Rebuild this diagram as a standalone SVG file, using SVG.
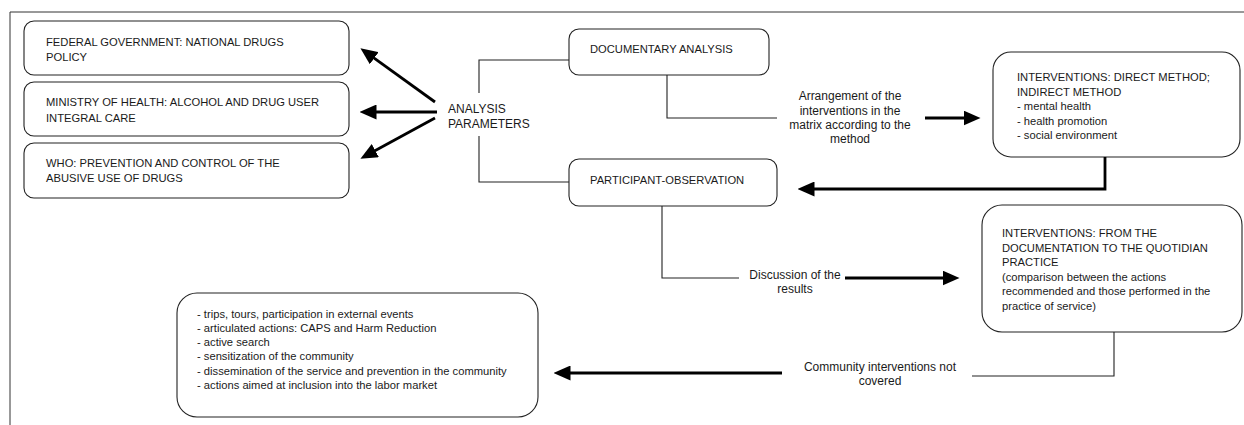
<svg xmlns="http://www.w3.org/2000/svg" width="1244" height="425" viewBox="0 0 1244 425">
<style>
  .frame{fill:none;stroke:#333;stroke-width:1}
  .box{fill:#fff;stroke:#222;stroke-width:1.1}
  .t{font-family:"Liberation Sans",Arial,sans-serif;font-size:11.2px;fill:#1a1a1a}
  .lbl{font-family:"Liberation Sans",Arial,sans-serif;font-size:12px;fill:#1a1a1a;text-anchor:middle}
  .thin{fill:none;stroke:#222;stroke-width:1.1}
  .thick{fill:none;stroke:#000;stroke-width:2.8;marker-end:url(#ah)}
</style>
<defs>
  <marker id="ah" markerUnits="userSpaceOnUse" viewBox="0 0 17 15" markerWidth="17" markerHeight="15" refX="0.5" refY="7.5" orient="auto">
    <path d="M0,0 L17,7.5 L0,15 z" fill="#000"/>
  </marker>
</defs>
<rect width="1244" height="425" fill="#fff"/>
<path class="frame" d="M10,425 V12 H1244"/>

<g id="federal">
  <rect class="box" x="24" y="21" width="325" height="54" rx="10"/>
  <text class="t" x="46" y="46">FEDERAL GOVERNMENT: NATIONAL DRUGS</text>
  <text class="t" x="46" y="61">POLICY</text>
</g>
<g id="ministry">
  <rect class="box" x="24" y="82" width="325" height="54" rx="10"/>
  <text class="t" x="46" y="106">MINISTRY OF HEALTH: ALCOHOL AND DRUG USER</text>
  <text class="t" x="46" y="122">INTEGRAL CARE</text>
</g>
<g id="who">
  <rect class="box" x="24" y="143" width="325" height="55" rx="10"/>
  <text class="t" x="46" y="167">WHO: PREVENTION AND CONTROL OF THE</text>
  <text class="t" x="46" y="182">ABUSIVE USE OF DRUGS</text>
</g>
<g id="analysis-parameters">
  <text class="lbl" style="text-anchor:start" x="448" y="113">ANALYSIS</text>
  <text class="lbl" style="text-anchor:start" x="448" y="128">PARAMETERS</text>
</g>
<g id="documentary">
  <rect class="box" x="569" y="29" width="200" height="46" rx="10"/>
  <text class="t" x="590" y="53">DOCUMENTARY ANALYSIS</text>
</g>
<g id="participant">
  <rect class="box" x="569" y="159" width="208" height="47" rx="10"/>
  <text class="t" x="590" y="184">PARTICIPANT-OBSERVATION</text>
</g>
<g id="interventions-method">
  <rect class="box" x="993" y="52" width="247" height="105" rx="18"/>
  <text class="t" x="1017" y="81">INTERVENTIONS: DIRECT METHOD;</text>
  <text class="t" x="1017" y="95.5">INDIRECT METHOD</text>
  <text class="t" x="1017" y="110">- mental health</text>
  <text class="t" x="1017" y="124.5">- health promotion</text>
  <text class="t" x="1017" y="139">- social environment</text>
</g>
<g id="interventions-practice">
  <rect class="box" x="982" y="205" width="260" height="127" rx="20"/>
  <text class="t" x="1002" y="237">INTERVENTIONS: FROM THE</text>
  <text class="t" x="1002" y="251.5">DOCUMENTATION TO THE QUOTIDIAN</text>
  <text class="t" x="1002" y="266">PRACTICE</text>
  <text class="t" x="1002" y="280.5">(comparison between the actions</text>
  <text class="t" x="1002" y="295">recommended and those performed in the</text>
  <text class="t" x="1002" y="309.5">practice of service)</text>
</g>
<g id="community-list">
  <rect class="box" x="177" y="293" width="361" height="124" rx="20"/>
  <text class="t" x="197" y="317.5">- trips, tours, participation in external events</text>
  <text class="t" x="197" y="331.8">- articulated actions: CAPS and Harm Reduction</text>
  <text class="t" x="197" y="346">- active search</text>
  <text class="t" x="197" y="360.4">- sensitization of the community</text>
  <text class="t" x="197" y="374.7">- dissemination of the service and prevention in the community</text>
  <text class="t" x="197" y="389">- actions aimed at inclusion into the labor market</text>
</g>

<g id="connectors">
  <line class="thick" x1="435" y1="102" x2="373.8" y2="57.9"/>
  <line class="thick" x1="437" y1="112" x2="376" y2="112"/>
  <line class="thick" x1="435" y1="118" x2="374.9" y2="150.8"/>
  <path class="thin" d="M479,93 V60 H569"/>
  <path class="thin" d="M479,136 V182 H569"/>
  <path class="thin" d="M667,75 V118 H777"/>
  <g id="label-arrangement">
    <text class="lbl" x="850" y="100">Arrangement of the</text>
    <text class="lbl" x="850" y="114.5">interventions in the</text>
    <text class="lbl" x="850" y="129">matrix according to the</text>
    <text class="lbl" x="850" y="143">method</text>
  </g>
  <path class="thick" d="M925,118 H964"/>
  <path class="thick" d="M1105,157 V189 H814"/>
  <path class="thin" d="M662,206 V278 H739"/>
  <g id="label-discussion">
    <text class="lbl" x="795" y="279">Discussion of the</text>
    <text class="lbl" x="795" y="293">results</text>
  </g>
  <path class="thick" d="M845,278 H943"/>
  <path class="thin" d="M1114,332 V376 H972"/>
  <g id="label-community">
    <text class="lbl" x="880" y="371">Community interventions not</text>
    <text class="lbl" x="880" y="385">covered</text>
  </g>
  <path class="thick" d="M782,373 H570"/>
</g>
</svg>
